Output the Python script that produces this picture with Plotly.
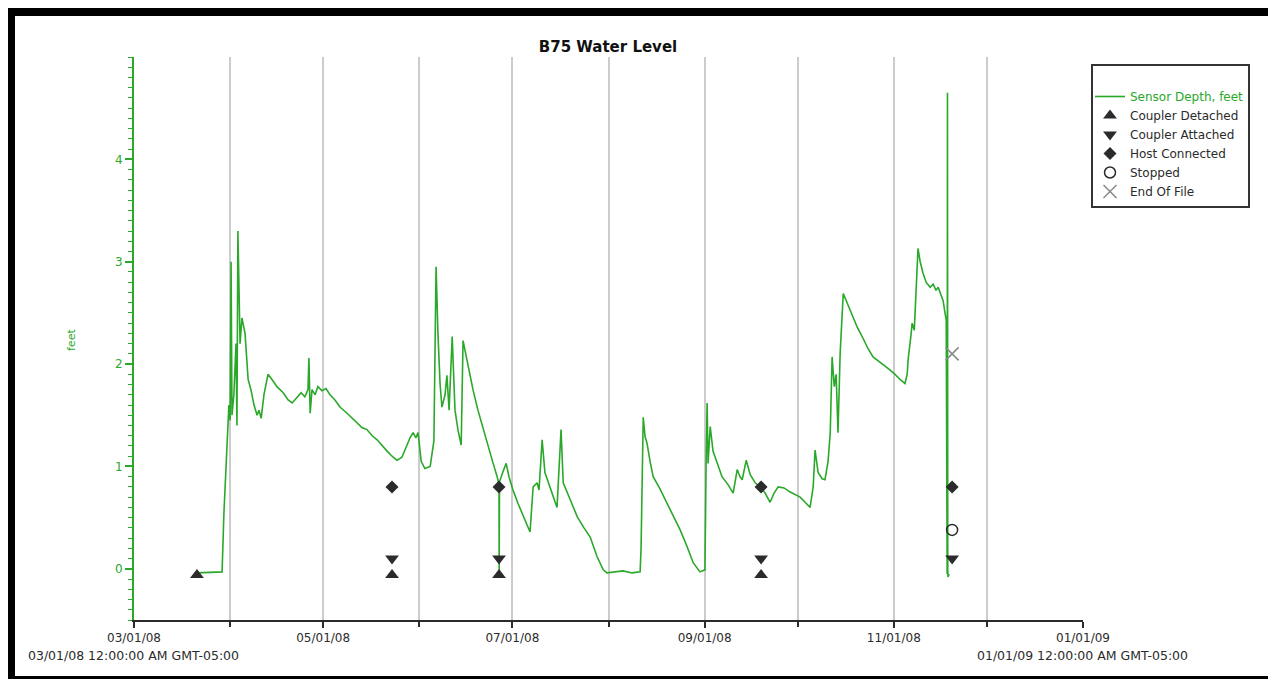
import pandas as pd
from plotly import graph_objs as go

# sensor depth trace: days since 03/01/08 and depth in feet
depth_days = [
    20.3, 28.4, 29.0, 30.0, 30.6, 31.0, 31.3, 31.6, 32.2, 32.9, 33.2, 33.5, 34.2, 34.8,
    35.8, 36.8, 37.7, 38.7, 39.7, 40.3, 41.0, 41.9, 43.2, 44.5, 46.1, 48.1, 49.7, 51.0,
    52.6, 53.9, 55.1, 56.1, 56.4, 56.8, 57.4, 58.4, 59.3, 60.6, 61.9, 63.2, 64.8, 66.4,
    68.7, 70.3, 71.9, 73.5, 75.1, 76.8, 78.4, 80.0, 81.6, 83.2, 84.8, 86.4, 87.7, 89.0,
    90.0, 90.9, 91.6, 92.6, 93.8, 95.5, 96.7, 97.4, 98.0, 98.7, 99.3, 100.3, 100.9, 101.6,
    102.6, 103.5, 104.5, 105.5, 106.1, 107.7, 109.3, 110.9, 112.6, 114.2, 115.8, 117.1,
    117.7, 117.75, 117.85, 119.0, 120.0, 120.9, 122.2, 123.8, 125.8, 127.7, 128.7, 130.0,
    130.6, 131.6, 132.5, 134.2, 135.4, 136.4, 137.7, 138.4, 140.6, 142.9, 145.1, 147.1,
    149.3, 151.3, 152.5, 155.1, 157.7, 160.6, 163.2, 163.5, 164.2, 164.8, 165.4, 166.4,
    167.4, 169.6, 171.9, 174.2, 176.1, 178.3, 180.3, 182.5, 184.1, 184.5, 184.8, 185.1,
    185.8, 186.7, 188.0, 189.6, 191.6, 193.2, 194.5, 195.4, 196.1, 197.4, 198.7, 200.3,
    201.9, 203.5, 205.1, 206.4, 207.7, 209.6, 211.6, 213.5, 214.8, 216.4, 218.0, 219.0,
    219.6, 220.6, 221.9, 222.8, 223.8, 224.5, 225.1, 225.8, 226.4, 227.0, 227.7, 228.7,
    229.9, 231.6, 233.2, 235.1, 236.7, 238.3, 240.6, 242.2, 243.8, 245.4, 247.0, 248.6,
    249.3, 249.6, 250.6, 250.9, 251.6, 252.2, 252.8, 253.5, 254.4, 255.4, 256.7, 257.7,
    258.6, 259.3, 260.3, 260.9, 261.5, 261.9, 262.2, 262.3, 262.4, 262.5, 262.8,
]
depth_feet = [
    -0.04, -0.03, 0.55, 1.2, 1.6, 1.45, 3.0, 1.5, 1.7, 2.2, 1.4, 3.3, 2.2, 2.45,
    2.3, 1.85, 1.75, 1.6, 1.5, 1.55, 1.47, 1.7, 1.9, 1.85, 1.78, 1.72, 1.65, 1.62,
    1.67, 1.72, 1.68, 1.75, 2.06, 1.52, 1.75, 1.7, 1.78, 1.74, 1.76, 1.7, 1.65, 1.58,
    1.52, 1.47, 1.43, 1.38, 1.36, 1.3, 1.26, 1.2, 1.15, 1.1, 1.06, 1.09, 1.18, 1.28,
    1.33, 1.28, 1.33, 1.05, 0.98, 1.0, 1.25, 2.95, 2.3, 1.8, 1.58, 1.7, 1.89, 1.55,
    2.27, 1.55, 1.35, 1.21, 2.23, 1.98, 1.75, 1.55, 1.36, 1.2, 1.03, 0.9,
    0.82, -0.03, 0.85, 0.95, 1.03, 0.9, 0.77, 0.64, 0.5, 0.36, 0.8, 0.84,
    0.77, 1.26, 0.94, 0.8, 0.7, 0.6, 1.36, 0.84, 0.68, 0.51, 0.4, 0.31,
    0.12, -0.01, -0.04, -0.03, -0.02, -0.04, -0.03, 0.2, 1.48, 1.29, 1.23, 1.05,
    0.9, 0.78, 0.64, 0.5, 0.38, 0.22, 0.06, -0.03, -0.01, 1.1, 1.62, 1.03,
    1.39, 1.15, 1.03, 0.9, 0.82, 0.74, 0.97, 0.9, 0.87, 1.06, 0.92, 0.84,
    0.8, 0.74, 0.65, 0.74, 0.8, 0.79, 0.75, 0.72, 0.7, 0.65, 0.6, 0.8,
    1.16, 0.94, 0.88, 0.87, 1.05, 1.33, 2.07, 1.78, 1.9, 1.33, 2.11, 2.69,
    2.6, 2.47, 2.36, 2.25, 2.15, 2.07, 2.02, 1.98, 1.94, 1.9, 1.85, 1.81,
    1.9, 2.04, 2.3, 2.4, 2.33, 2.8, 3.13, 3.0, 2.89, 2.8, 2.75, 2.78,
    2.72, 2.75, 2.68, 2.62, 2.5, 2.43, -0.05, 4.65, -0.03, -0.08, -0.05,
]

# logger events (days since 03/01/08, feet)
detached_days = [20.3, 83.2, 117.7, 202.2]
detached_feet = [-0.06, -0.06, -0.06, -0.06]
attached_days = [83.2, 117.7, 202.2, 263.8]
attached_feet = [0.1, 0.1, 0.1, 0.1]
host_days = [83.2, 117.7, 202.2, 263.8]
host_feet = [0.8, 0.8, 0.8, 0.8]
stopped_days = [263.8]
stopped_feet = [0.38]
eof_days = [263.8]
eof_feet = [2.1]

start = pd.Timestamp("2008-03-01")


def to_dates(days):
    return start + pd.to_timedelta(days, unit="D")


# page coords of the reference; the browser puts the figure 8px in from the corner
W, H, OFF = 1276, 681, 8
L, R, T, B = 134, 1083, 57, 620


def px(x):
    return (x - L) / (R - L)


def py(y):
    return (B - y) / (B - T)


GREEN = "#2aa82a"
DARK = "#2b2b2b"
FONT = "DejaVu Sans"

fig = go.Figure()
fig.add_trace(go.Scatter(
    x=to_dates(depth_days), y=depth_feet, mode="lines",
    name="<span style='color:%s'>Sensor Depth, feet</span>" % GREEN,
    line=dict(color=GREEN, width=1.6),
))
fig.add_trace(go.Scatter(
    x=to_dates(detached_days), y=detached_feet, mode="markers", name="Coupler Detached",
    marker=dict(symbol="triangle-up", size=12, color=DARK),
))
fig.add_trace(go.Scatter(
    x=to_dates(attached_days), y=attached_feet, mode="markers", name="Coupler Attached",
    marker=dict(symbol="triangle-down", size=12, color=DARK),
))
fig.add_trace(go.Scatter(
    x=to_dates(host_days), y=host_feet, mode="markers", name="Host Connected",
    marker=dict(symbol="diamond", size=10, color=DARK),
))
fig.add_trace(go.Scatter(
    x=to_dates(stopped_days), y=stopped_feet, mode="markers", name="Stopped",
    marker=dict(symbol="circle-open", size=11, color=DARK, line=dict(width=1.5)),
))
fig.add_trace(go.Scatter(
    x=to_dates(eof_days), y=eof_feet, mode="markers", name="End Of File",
    marker=dict(symbol="x-thin-open", size=13, color="#888888", line=dict(width=1.5)),
))

# picture frame
frame = [(7, 8, 15, 679), (7, 8, 1276, 16), (1269, 8, 1276, 679), (7, 676, 1276, 679)]
shapes = []
for x0, y0, x1, y1 in frame:
    shapes.append(dict(type="rect", xref="paper", yref="paper",
                       x0=px(x0), x1=px(x1), y0=py(y1), y1=py(y0),
                       fillcolor="black", line=dict(width=0), layer="above"))
# legend box
shapes.append(dict(type="rect", xref="paper", yref="paper",
                   x0=px(1092), x1=px(1249), y0=py(207), y1=py(65),
                   fillcolor="rgba(0,0,0,0)", line=dict(color="#333333", width=2),
                   layer="above"))

annotations = [
    dict(text="03/01/08 12:00:00 AM GMT-05:00", x=px(133), y=py(655), xref="paper", yref="paper",
         xanchor="center", yanchor="middle", showarrow=False,
         font=dict(family=FONT, size=12.5, color=DARK)),
    dict(text="01/01/09 12:00:00 AM GMT-05:00", x=px(1082), y=py(655), xref="paper", yref="paper",
         xanchor="center", yanchor="middle", showarrow=False,
         font=dict(family=FONT, size=12.5, color=DARK)),
    dict(text="feet", x=px(72), y=py(340), xref="paper", yref="paper", textangle=-90,
         xanchor="center", yanchor="middle", showarrow=False,
         font=dict(family=FONT, size=11, color=GREEN)),
]

fig.update_layout(
    width=W - OFF, height=H - OFF,
    margin=dict(l=L - OFF, r=W - R, t=T - OFF, b=H - B),
    paper_bgcolor="white", plot_bgcolor="white",
    title=dict(text="<b>B75 Water Level</b>", x=px(608), xref="paper",
               y=1 - (47 - OFF) / (H - OFF), yanchor="middle", xanchor="center",
               font=dict(family=FONT, size=15, color="#111111")),
    font=dict(family=FONT, size=12, color=DARK),
    showlegend=True,
    legend=dict(x=px(1090), y=py(82), xanchor="left", yanchor="top",
                bgcolor="rgba(0,0,0,0)", borderwidth=0,
                font=dict(family=FONT, size=12, color=DARK), itemwidth=30,
                tracegroupgap=0),
    shapes=shapes,
    annotations=annotations,
)
fig.update_xaxes(
    type="date", range=["2008-03-01", "2009-01-01"],
    tick0="2008-03-01", dtick="M2", tickformat="%m/%d/%y",
    showline=True, linecolor=DARK, linewidth=2,
    ticks="outside", ticklen=6, tickwidth=2, tickcolor=DARK,
    showgrid=True, gridcolor="#cccccc", gridwidth=1.5,
    tickfont=dict(family=FONT, size=12, color=DARK),
    minor=dict(dtick="M1", ticks="outside", ticklen=5, tickcolor=DARK,
               showgrid=True, gridcolor="#cccccc", gridwidth=1.5),
    zeroline=False,
)
fig.update_yaxes(
    range=[-0.5, 5.0], tickvals=[0, 1, 2, 3, 4],
    showline=True, linecolor=GREEN, linewidth=2,
    ticks="outside", ticklen=7, tickwidth=2, tickcolor=GREEN,
    tickfont=dict(family=FONT, size=12, color=GREEN),
    showgrid=False, zeroline=False,
    minor=dict(dtick=0.1, ticks="outside", ticklen=4, tickcolor=GREEN, tickwidth=1),
)

fig.write_html("out.html")
